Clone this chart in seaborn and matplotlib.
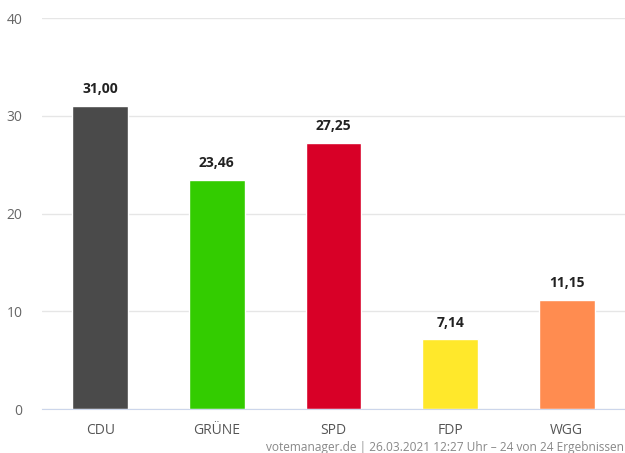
import matplotlib
matplotlib.use("Agg")
import matplotlib.pyplot as plt
import seaborn as sns
import pandas as pd
import numpy as np

#%% Data

parties = ['CDU', 'GRÜNE', 'SPD', 'FDP', 'WGG']
shares = [31.00, 23.46, 27.25, 7.14, 11.15]
bar_colors = ['#4a4a4a', '#33cc00', '#d80027', '#ffe82b', '#ff8c50']
y_ticks = [0, 10, 20, 30, 40]
footer = 'votemanager.de | 26.03.2021 12:27 Uhr – 24 von 24 Ergebnissen'

df = pd.DataFrame({'party': parties, 'share': shares})

#%% Plot

sns.set_style("white")
plt.rcParams['font.family'] = ['Open Sans', 'DejaVu Sans']

fig = plt.figure(figsize=(6.25, 4.53), dpi=100)
ax = fig.add_axes([0.0672, 0.0971, 0.9328, 0.863])

sns.barplot(data=df, x='party', y='share', hue='party', palette=bar_colors,
            width=0.48, saturation=1, legend=False, ax=ax)

ax.set_ylim(0, 40)
ax.set_xlim(-0.5, len(parties) - 0.5)
ax.set_yticks(y_ticks)
ax.set_yticklabels([str(t) for t in y_ticks])
ax.yaxis.grid(True, color='#e6e6e6', linewidth=1)
ax.set_axisbelow(True)

# value labels with German decimal comma
for i, v in enumerate(shares):
    ax.annotate(f'{v:.2f}'.replace('.', ','), (i, v), xytext=(0, 7),
                textcoords='offset points', ha='center', va='bottom',
                fontsize=10, fontweight='bold', color='#222222')

for s in ['top', 'right', 'left']:
    ax.spines[s].set_visible(False)
ax.spines['bottom'].set_color('#ccd6eb')

ax.tick_params(axis='y', length=0, colors='#666666', labelsize=10, pad=14)
ax.tick_params(axis='x', which='major', length=0, colors='#555555', labelsize=10, pad=10)
ax.set_xticks(np.arange(len(parties) + 1) - 0.5, minor=True)
ax.tick_params(axis='x', which='minor', length=10, color='#ccd6eb', width=1)
ax.set_xlabel('')
ax.set_ylabel('')

fig.text(0.999, -0.003, footer, ha='right', va='bottom', fontsize=8.6, color='#888888')

fig.savefig('out.png', dpi=100)
